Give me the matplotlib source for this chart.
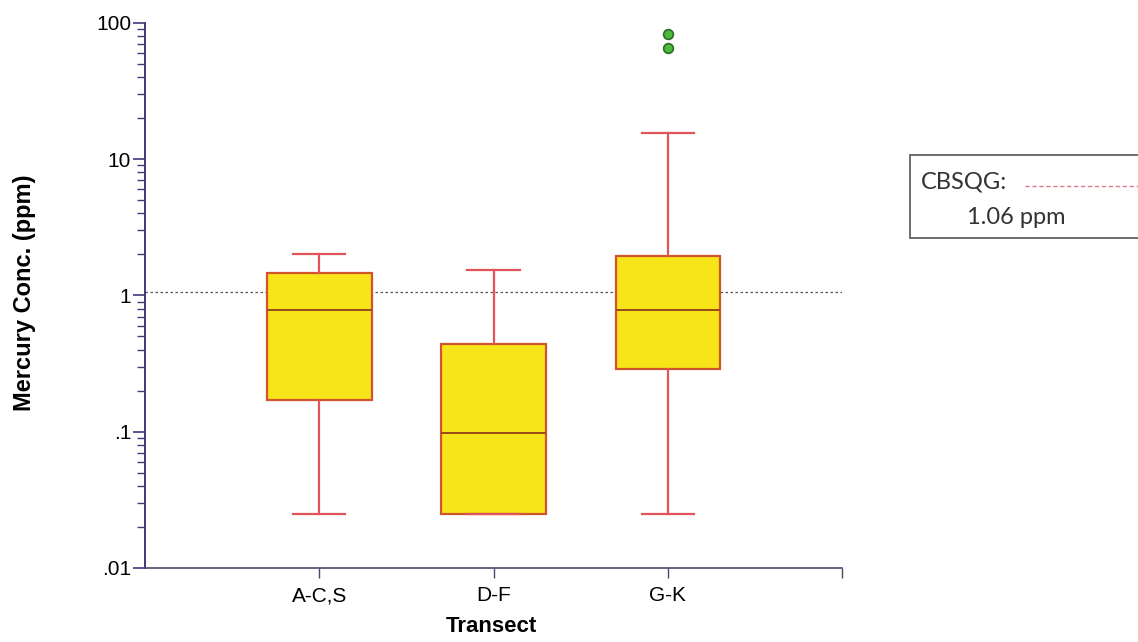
import matplotlib
matplotlib.use("Agg")
import matplotlib.pyplot as plt
from matplotlib.patches import Rectangle
from matplotlib.lines import Line2D
from matplotlib.ticker import LogLocator, NullFormatter, FixedFormatter, FixedLocator

# data (ppm)
transects = ["A-C,S", "D-F", "G-K"]
whisker_low = [0.025, 0.025, 0.025]
q1 = [0.17, 0.025, 0.29]
median = [0.78, 0.098, 0.78]
q3 = [1.45, 0.44, 1.96]
whisker_high = [2.0, 1.55, 15.5]
outliers = [[], [], [83, 66]]
cbsqg = 1.06

ytick_vals = [0.01, 0.1, 1, 10, 100]
ytick_labels = [".01", ".1", "1", "10", "100"]

plt.rcParams["font.family"] = ["Liberation Sans", "DejaVu Sans"]

fig = plt.figure(figsize=(11.38, 6.42), dpi=100)
ax = fig.add_axes([0.1274, 0.1153, 0.6126, 0.849])

stats = []
for i, name in enumerate(transects):
    stats.append({"label": name, "whislo": whisker_low[i], "q1": q1[i],
                  "med": median[i], "q3": q3[i], "whishi": whisker_high[i],
                  "fliers": outliers[i]})

ax.bxp(stats, positions=[1, 2, 3], widths=0.6, capwidths=0.3,
       patch_artist=True,
       boxprops=dict(facecolor="#f7e51a", edgecolor="#d0542c", linewidth=1.6),
       medianprops=dict(color="#9a4a1c", linewidth=1.4),
       whiskerprops=dict(color="#e0545a", linewidth=1.6),
       capprops=dict(color="#e0545a", linewidth=1.6),
       flierprops=dict(marker="o", markerfacecolor="#4cbb3c",
                       markeredgecolor="#2f6a2a", markersize=7,
                       markeredgewidth=1.2))

ax.axhline(cbsqg, color="#555555", linestyle=(0, (2, 2)), linewidth=0.9,
           zorder=0.5)

ax.set_yscale("log")
ax.set_ylim(0.01, 100)
ax.set_xlim(0, 4)

ax.yaxis.set_major_locator(FixedLocator(ytick_vals))
ax.yaxis.set_major_formatter(FixedFormatter(ytick_labels))
ax.yaxis.set_minor_locator(LogLocator(base=10, subs=range(2, 10)))
ax.yaxis.set_minor_formatter(NullFormatter())

ax.set_xticks([1, 2, 3, 4])
ax.set_xticklabels(transects + [""])

for s in ["top", "right"]:
    ax.spines[s].set_visible(False)
ax.spines["left"].set_color("#3b3b7a")
ax.spines["left"].set_linewidth(1.4)
ax.spines["bottom"].set_color("#4a4a6a")
ax.spines["bottom"].set_linewidth(1.2)

ax.tick_params(axis="y", which="major", length=9, width=1.2, color="#3b3b7a",
               labelsize=15, pad=1)
ax.tick_params(axis="y", which="minor", length=6, width=1.0, color="#3b3b7a")
ax.tick_params(axis="x", which="major", length=7, width=1.0, color="#4a4a6a",
               labelsize=15, pad=6)

# axis titles placed where the reference has them
fig.text(25 / 1138, 1 - 293 / 642, "Mercury Conc. (ppm)", fontsize=17,
         fontweight="bold", rotation=90, ha="center", va="center")
fig.text(491 / 1138, 1 - 627 / 642, "Transect", fontsize=16,
         fontweight="bold", ha="center", va="center")

# legend box on the right, cut off at figure edge
fig.patches.append(Rectangle((910 / 1138, 1 - 238 / 642), 240 / 1138, 83 / 642,
                             transform=fig.transFigure, facecolor="white",
                             edgecolor="#555555", linewidth=1.2))
fig.text(921 / 1138, 1 - 182 / 642, "CBSQG:", fontsize=17, family="Lato",
         color="#333333", va="center", ha="left")
fig.lines.append(Line2D([1025 / 1138, 1140 / 1138], [1 - 186 / 642, 1 - 186 / 642],
                        transform=fig.transFigure, color="#e0788a",
                        linestyle=(0, (3, 2)), linewidth=1.0))
fig.text(967 / 1138, 1 - 217 / 642, "1.06 ppm", fontsize=17, family="Lato",
         color="#333333", va="center", ha="left")

fig.savefig("out.png", dpi=100)
